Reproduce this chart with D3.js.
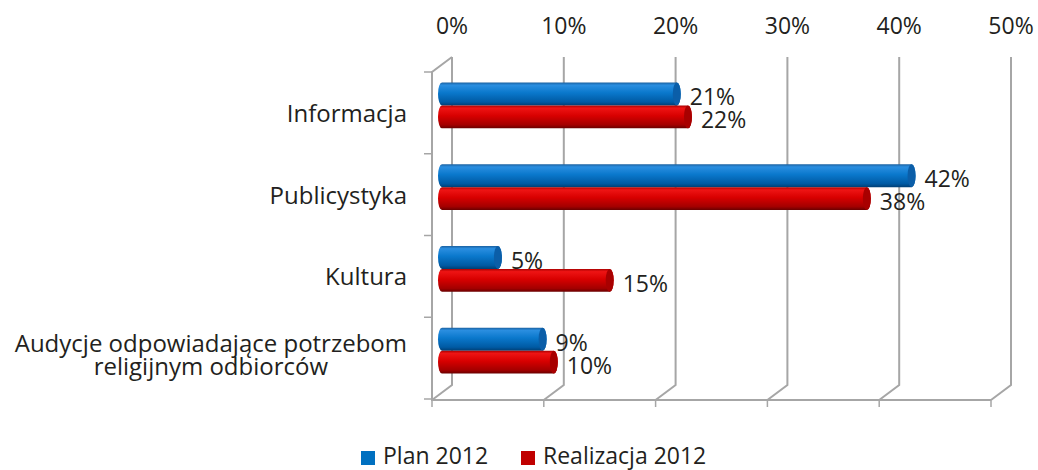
<!DOCTYPE html>
<html>
<head>
<meta charset="utf-8">
<script src="https://cdn.jsdelivr.net/npm/d3@7"></script>
<style>
  body { margin: 0; background: #fff; }
  svg text { font-family: 'Open Sans', sans-serif; fill: #231f20; }
</style>
</head>
<body>
<svg id="chart" width="1038" height="470"></svg>
<script>
// data
const categories = ['Informacja', 'Publicystyka', 'Kultura', 'Audycje odpowiadające potrzebom\nreligijnym odbiorców'];
const seriesNames = ['Plan 2012', 'Realizacja 2012'];
const plan2012 = [21, 42, 5, 9];
const realizacja2012 = [22, 38, 15, 10];
const tickValues = [0, 10, 20, 30, 40, 50];

const COLORS = { 'Plan 2012': '#0070c0', 'Realizacja 2012': '#c00000' };

function drawChart() {
  const svg = d3.select('#chart');
  svg.selectAll('*').remove();

  const depth = { dx: 20, dy: -15 };
  const x = d3.scaleLinear().domain([0, 50]).range([432, 991]);
  const y = d3.scaleBand().domain(categories).range([72, 399]);
  const sub = d3.scaleBand().domain(seriesNames).range([0, y.bandwidth()]).paddingOuter(0.78);
  const floorY = y.range()[1] + 1;

  const defs = svg.append('defs');
  const grads = {
    'Plan 2012': [['0%', '#1a5f9e'], ['12%', '#2a8ee0'], ['45%', '#0a78cc'], ['85%', '#005aa3'], ['100%', '#003f75']],
    'Realizacja 2012': [['0%', '#a80000'], ['12%', '#ee1414'], ['45%', '#d80000'], ['85%', '#a30000'], ['100%', '#680000']]
  };
  seriesNames.forEach((s, i) => {
    const lg = defs.append('linearGradient').attr('id', 'g' + i)
      .attr('x1', 0).attr('y1', 0).attr('x2', 0).attr('y2', 1);
    grads[s].forEach(([o, c]) => lg.append('stop').attr('offset', o).attr('stop-color', c));
  });

  const grid = '#a6a6a6';

  // back wall gridlines + floor diagonals
  tickValues.forEach(t => {
    svg.append('path')
      .attr('d', `M${x(t) + depth.dx},${y.range()[0] + depth.dy} L${x(t) + depth.dx},${floorY + depth.dy} L${x(t)},${floorY}`)
      .attr('fill', 'none').attr('stroke', grid).attr('stroke-width', 2);
    svg.append('line')
      .attr('x1', x(t)).attr('x2', x(t)).attr('y1', floorY).attr('y2', floorY + 7)
      .attr('stroke', grid).attr('stroke-width', 1.5);
  });

  // left wall + floor front edge
  svg.append('path')
    .attr('d', `M${x(0) + depth.dx},${y.range()[0] + depth.dy} L${x(0)},${y.range()[0]} L${x(0)},${floorY} L${x(50)},${floorY}`)
    .attr('fill', 'none').attr('stroke', grid).attr('stroke-width', 2);

  const bounds = categories.map(c => y(c)).concat([y.range()[1]]);
  svg.selectAll('.ytick').data(bounds).enter().append('line')
    .attr('x1', x(0) - 8).attr('x2', x(0))
    .attr('y1', d => d).attr('y2', d => d)
    .attr('stroke', grid).attr('stroke-width', 1.5);

  // top tick labels
  svg.selectAll('.xlabel').data(tickValues).enter().append('text')
    .attr('x', d => x(d) + depth.dx).attr('y', 34)
    .attr('text-anchor', 'middle').attr('font-size', 23)
    .text(d => d + '%');

  // category labels
  categories.forEach(c => {
    const lines = c.split('\n');
    const cy = y(c) + y.bandwidth() / 2;
    const t = svg.append('text').attr('font-size', 24);
    lines.forEach((l, i) => {
      t.append('tspan').attr('y', cy + 9 - (lines.length - 1) * 15 + i * 23).text(l);
    });
    let maxW = 0;
    t.selectAll('tspan').each(function () { maxW = Math.max(maxW, this.getComputedTextLength()); });
    t.attr('text-anchor', 'middle');
    t.selectAll('tspan').attr('x', 407 - maxW / 2);
  });

  // bars (cylinders at mid depth)
  const rx = 4;
  const offX = depth.dx / 2, offY = depth.dy / 2;
  const values = { 'Plan 2012': plan2012, 'Realizacja 2012': realizacja2012 };
  const caps = { 'Plan 2012': '#0b5ea8', 'Realizacja 2012': '#a80000' };

  seriesNames.forEach((s, si) => {
    const data = categories.map((c, i) => ({ c, v: values[s][i] }));
    const h = sub.bandwidth();
    const gs = svg.append('g');
    const bar = gs.selectAll('g').data(data).enter().append('g');
    bar.append('path')
      .attr('d', d => {
        const x0 = x(0) + offX, x1 = x(d.v) + offX;
        const yt = y(d.c) + sub(s) + offY, yb = yt + h;
        return `M${x0},${yt} L${x1},${yt} A${rx},${h / 2} 0 0 1 ${x1},${yb} L${x0},${yb} A${rx},${h / 2} 0 0 1 ${x0},${yt} Z`;
      })
      .attr('fill', `url(#g${si})`);
    bar.append('ellipse')
      .attr('cx', d => x(d.v) + offX)
      .attr('cy', d => y(d.c) + sub(s) + offY + h / 2)
      .attr('rx', rx).attr('ry', h / 2)
      .attr('fill', caps[s]);
    bar.append('text')
      .attr('x', d => x(d.v) + offX + rx + 9)
      .attr('y', d => y(d.c) + sub(s) + offY + h)
      .attr('font-size', 23)
      .text(d => d.v + '%');
  });

  // legend
  const legendX = [361, 521];
  seriesNames.forEach((s, i) => {
    svg.append('rect').attr('x', legendX[i]).attr('y', 451).attr('width', 14).attr('height', 14)
      .attr('fill', COLORS[s]);
    svg.append('text').attr('x', legendX[i] + 22).attr('y', 464).attr('font-size', 23).text(s);
  });
}

drawChart();
</script>
</body>
</html>
